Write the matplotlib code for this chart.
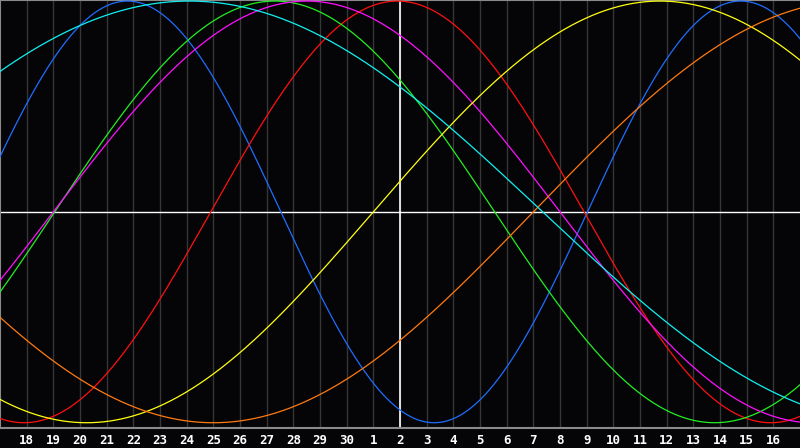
import numpy as np
import matplotlib
matplotlib.use("Agg")
import matplotlib.pyplot as plt

# day labels along the bottom (positions 1..29, left edge = day 17)
day_labels = ['18', '19', '20', '21', '22', '23', '24', '25', '26', '27', '28', '29', '30',
              '1', '2', '3', '4', '5', '6', '7', '8', '9', '10', '11', '12', '13', '14', '15', '16']
today_pos = 15  # day "2"

# cycles: period in days and position of a peak (in days from left edge)
cycle_names = ['physical', 'emotional', 'intellectual', 'intuitive', 'aesthetic', 'awareness', 'spiritual']
cycle_periods = [23, 28, 33, 38, 43, 48, 53]
cycle_peaks = [4.78, 14.9, 10.3, 11.5, 24.75, 32.0, 7.1]
cycle_colors = ['#1e6eff', '#ff1010', '#22ee22', '#ff10ff', '#ffff10', '#ff7a10', '#10f0f0']

n_days = 30
t = np.linspace(0, n_days, 801)

fig = plt.figure(figsize=(8, 4.48), dpi=100, facecolor='#050508')
ax = fig.add_axes([0, 20 / 448, 1, 428 / 448])
ax.set_facecolor('#050508')

# day grid
for d in range(1, n_days):
    ax.axvline(d, color='#363636', lw=1, zorder=1)

ax.axhline(0, color='white', lw=1, zorder=2)
ax.axvline(today_pos, color='white', lw=1.2, zorder=2)

for name, p, pk, c in zip(cycle_names, cycle_periods, cycle_peaks, cycle_colors):
    y = np.cos(2 * np.pi * (t - pk) / p)
    ax.plot(t, y, color=c, lw=0.9, zorder=3, label=name)

ax.set_xlim(0, n_days)
ax.set_ylim(-1.025, 1.005)

ax.set_xticks(range(1, n_days))
ax.set_xticklabels(day_labels, color='white', fontsize=9, fontweight='bold',
                   family='DejaVu Sans Mono')
ax.tick_params(axis='x', length=0, pad=4)
ax.set_yticks([])

ax.spines['right'].set_visible(False)
for side in ['left', 'top', 'bottom']:
    ax.spines[side].set_color('#8a8a8a')
    ax.spines[side].set_linewidth(1.5)

fig.savefig('out.png', dpi=100, facecolor=fig.get_facecolor())
